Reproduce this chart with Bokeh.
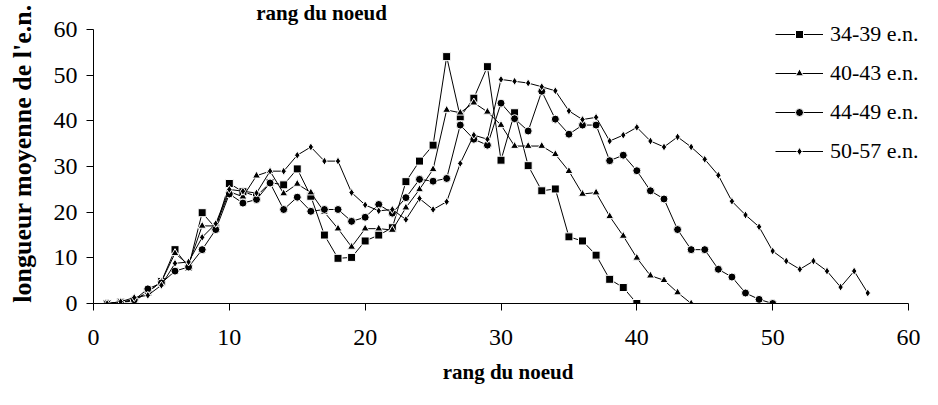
from bokeh.plotting import figure
from bokeh.models import Legend, LegendItem, Label, Range1d, FixedTicker
from bokeh.embed import file_html
from bokeh.resources import INLINE

# ---- data ----
x_34_39 = list(range(1, 41))
y_34_39 = [0, 0.3, 0.5, 2.5, 4.8, 11.8, 8.0, 19.9, 16.5, 26.3,
           24.5, 23.5, 26.5, 26.0, 29.5, 23.5, 15.0, 9.9, 10.1, 13.7,
           15.0, 16.6, 26.7, 31.2, 34.7, 54.1, 40.9, 45.0, 51.9, 31.4,
           41.8, 30.2, 24.7, 25.1, 14.6, 13.7, 10.6, 5.3, 3.5, 0]

x_40_43 = list(range(1, 45))
y_40_43 = [0, 0.3, 0.8, 2.5, 4.8, 11.0, 8.5, 17.0, 17.0, 24.5,
           23.4, 28.0, 29.0, 24.1, 26.2, 24.3, 20.0, 16.4, 12.4, 16.4,
           16.4, 16.1, 21.0, 25.0, 29.4, 42.4, 41.8, 44.0, 42.0, 39.1,
           34.5, 34.5, 34.5, 32.7, 29.0, 24.0, 24.3, 19.1, 14.8, 10.0,
           6.1, 5.1, 2.4, 0]

x_44_49 = list(range(1, 51))
y_44_49 = [0, 0.3, 0.8, 3.2, 4.5, 7.1, 8.0, 11.8, 16.2, 24.0,
           22.0, 22.8, 26.4, 20.6, 23.3, 20.2, 20.6, 20.6, 18.0, 18.9,
           21.7, 19.8, 23.2, 27.2, 26.8, 27.4, 39.1, 36.0, 34.7, 43.9,
           40.5, 37.8, 46.5, 40.4, 37.1, 39.1, 39.1, 31.3, 32.5, 29.1,
           24.7, 22.9, 16.2, 11.8, 11.8, 7.5, 5.8, 2.3, 0.9, 0]

x_50_57 = list(range(1, 58))
y_50_57 = [0, 0.4, 1.3, 1.8, 4.0, 8.8, 9.1, 14.5, 17.5, 25.0,
           24.6, 24.2, 29.0, 29.0, 32.5, 34.3, 31.2, 31.2, 24.3, 21.6,
           20.3, 20.6, 18.4, 23.0, 20.6, 22.3, 30.7, 36.9, 36.0, 49.1,
           48.7, 48.3, 47.5, 46.6, 42.2, 40.3, 40.8, 35.6, 36.9, 38.6,
           35.6, 34.3, 36.5, 34.3, 31.6, 28.1, 22.4, 19.4, 16.8, 11.5,
           9.3, 7.5, 9.3, 7.1, 3.6, 7.1, 2.3]

series_labels = ["34-39 e.n.", "40-43 e.n.", "44-49 e.n.", "50-57 e.n."]
x_ticks = [0, 10, 20, 30, 40, 50, 60]
y_ticks = [0, 10, 20, 30, 40, 50, 60]
axis_title = "rang du noeud"
y_title = "longueur moyenne de l'e.n."

FONT = "'Liberation Serif', 'Times New Roman', serif"

p = figure(width=922, height=389, output_backend="svg", toolbar_location=None,
           x_range=Range1d(0, 61.03), y_range=Range1d(0, 65.74),
           min_border_left=93, min_border_right=0, min_border_top=3,
           min_border_bottom=86)
p.outline_line_color = None
p.grid.visible = False
p.background_fill_color = "white"
p.border_fill_color = "white"

for ax in (p.xaxis[0], p.yaxis[0]):
    ax.axis_line_color = "black"
    ax.major_tick_line_color = "black"
    ax.major_tick_out = 7
    ax.major_tick_in = 0
    ax.minor_tick_line_color = None
    ax.major_label_text_font = FONT
    ax.major_label_text_font_size = "24px"
    ax.major_label_text_color = "black"
    ax.axis_label_text_font = FONT
    ax.axis_label_text_font_style = "bold"
    ax.axis_label_text_color = "black"
    ax.bounds = (0, 60)

p.xaxis.ticker = FixedTicker(ticks=x_ticks)
p.yaxis.ticker = FixedTicker(ticks=y_ticks)
p.xaxis.major_label_standoff = 19
p.yaxis.major_label_standoff = 9
p.xaxis.axis_label = axis_title
p.xaxis.axis_label_text_font_size = "21px"
p.xaxis.axis_label_standoff = 12
p.yaxis.axis_label = y_title
p.yaxis.axis_label_text_font_size = "26px"
p.yaxis.axis_label_standoff = 14

data = [(x_34_39, y_34_39, "square", 8),
        (x_40_43, y_40_43, "triangle", 8),
        (x_44_49, y_44_49, "circle", 8),
        (x_50_57, y_50_57, "diamond", 8)]

items = []
for (xs, ys, mk, sz), lab in zip(data, series_labels):
    lr = p.line(xs, ys, line_color="black", line_width=1)
    sr = p.scatter(xs, ys, marker=mk, size=sz, fill_color="black",
                   line_color="white", line_width=1)
    items.append(LegendItem(label=lab, renderers=[lr, sr]))

legend = Legend(items=items, location=(682, 139))
legend.background_fill_alpha = 0
legend.border_line_color = None
legend.label_text_font = FONT
legend.label_text_font_size = "22px"
legend.label_text_color = "black"
legend.glyph_width = 48
legend.glyph_height = 20
legend.label_standoff = 7
legend.spacing = 13
legend.padding = 0
legend.margin = 0
p.add_layout(legend)

title_lbl = Label(x=16.79, y=63.66, text=axis_title, text_align="center",
                  text_baseline="middle", text_font=FONT,
                  text_font_style="bold", text_font_size="21px",
                  text_color="black")
p.add_layout(title_lbl)

open("out.html", "w").write(file_html(p, INLINE))
